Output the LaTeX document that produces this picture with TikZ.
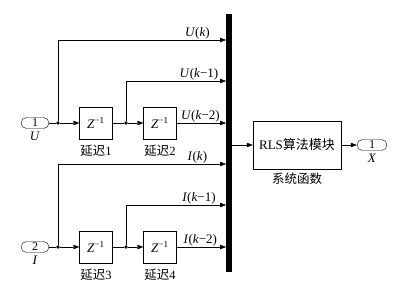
\documentclass[tikz,border=0pt]{standalone}
\usepackage{fontspec}
\setmainfont{Liberation Serif}
\newfontfamily\cjk{Noto Sans CJK SC}
\usetikzlibrary{arrows.meta}
\tikzset{
  simfig/.style={x=1pt,y=-1pt,>={Triangle[length=6pt,width=4.5pt]},
    every node/.style={font=\fontsize{13}{15}\selectfont,inner sep=1pt}},
  port/.style={draw,rounded corners=5.5pt,minimum width=28pt,
    minimum height=11pt,inner sep=0pt,font=\fontsize{12}{12}\selectfont},
  delaybox/.style={draw,minimum width=33pt,minimum height=32pt},
  junc/.style={circle,fill,inner sep=1.4pt},
  sig/.style={font=\fontsize{13}{15}\selectfont,above},
  portname/.style={font=\fontsize{13}{15}\selectfont,label distance=2.5pt},
  blkname/.style={font=\fontsize{12.5}{15}\selectfont,label distance=5pt},
}

\begin{document}
\begin{tikzpicture}[simfig]
    \useasboundingbox (0,0) rectangle (406,292);
    \node[fill,minimum width=6pt,minimum height=258pt,inner sep=0pt]
      (bus) at (229,143) {};
    \coordinate (b1) at (226,40);
    \coordinate (b2) at (226,81);
    \coordinate (b3) at (226,123);
    \coordinate (b4) at (226,164);
    \coordinate (b5) at (226,205);
    \coordinate (b6) at (226,247);

    \node[port,label={[portname]below:\textit{U}}] (inU) at (35,123) {1};
    \node[junc] (jU1) at (58,123) {};
    \node[delaybox,label={[blkname]below:{\cjk 延迟}1}] (dl1) at (96,123)
      {\textit{Z}\textsuperscript{−1}};
    \node[junc] (jU2) at (126,123) {};
    \node[delaybox,label={[blkname]below:{\cjk 延迟}2}] (dl2) at (160,123)
      {\textit{Z}\textsuperscript{−1}};
    \draw (inU) -- (jU1);
    \draw[->] (jU1) -- (dl1);
    \draw (dl1) -- (jU2);
    \draw[->] (jU2) -- (dl2);
    \draw[->] (jU1) |- node[sig,pos=0.915] {\textit{U}(\textit{k})} (b1);
    \draw[->] (jU2) |- node[sig,pos=0.865] {\textit{U}(\textit{k}−1)} (b2);
    \draw[->] (dl2) -- node[sig,pos=0.48] {\textit{U}(\textit{k}−2)} (b3);

    \node[port,label={[portname]below:\textit{I}}] (inI) at (35,247) {2};
    \node[junc] (jI1) at (58,247) {};
    \node[delaybox,label={[blkname]below:{\cjk 延迟}3}] (dl3) at (96,247)
      {\textit{Z}\textsuperscript{−1}};
    \node[junc] (jI2) at (126,247) {};
    \node[delaybox,label={[blkname]below:{\cjk 延迟}4}] (dl4) at (160,247)
      {\textit{Z}\textsuperscript{−1}};
    \draw (inI) -- (jI1);
    \draw[->] (jI1) -- (dl3);
    \draw (dl3) -- (jI2);
    \draw[->] (jI2) -- (dl4);
    \draw[->] (jI1) |- node[sig,pos=0.915] {\textit{I}(\textit{k})} (b4);
    \draw[->] (jI2) |- node[sig,pos=0.865] {\textit{I}(\textit{k}−1)} (b5);
    \draw[->] (dl4) -- node[sig,pos=0.48] {\textit{I}(\textit{k}−2)} (b6);

    \node[draw,minimum width=88pt,minimum height=48pt,
      label={[blkname,label distance=3pt]below:{\cjk 系统函数}}]
      (rls) at (297,145) {RLS{\cjk 算法模块}};
    \node[port,minimum width=30pt,label={[portname]below:\textit{X}}]
      (outX) at (372,145) {1};
    \draw[->] (bus.east |- rls) -- (rls);
    \draw[->] (rls) -- (outX);
\end{tikzpicture}
\end{document}
